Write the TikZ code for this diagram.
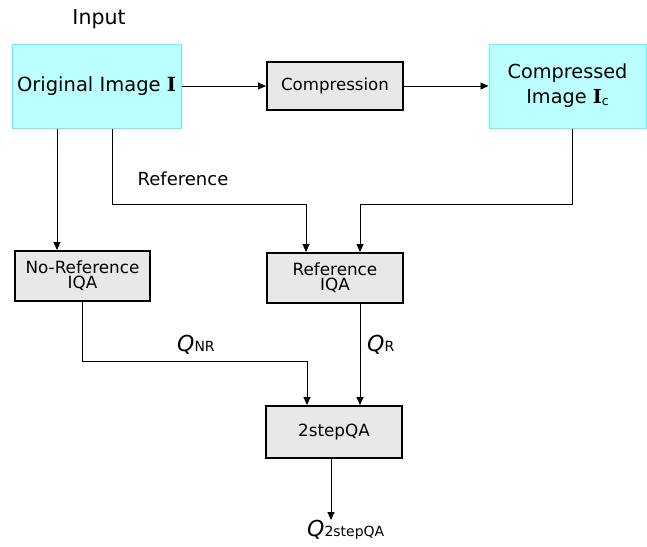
\documentclass[tikz,border=0pt]{standalone}
\usepackage{fontspec}
\setmainfont{DejaVu Sans}
\newfontfamily\slabfont{DejaVu Serif}
\newcommand{\boldI}{{\slabfont\bfseries I}}
\usetikzlibrary{arrows.meta}
\definecolor{cyanfill}{HTML}{BBFFFF}
\definecolor{cyanline}{HTML}{66F0F0}
\definecolor{boxgray}{HTML}{E8E8E8}
\tikzset{
  imgbox/.style={draw=cyanline, fill=cyanfill, line width=1pt, inner sep=0pt, align=center},
  procbox/.style={draw=black, fill=boxgray, line width=2pt, inner sep=0pt, align=center},
  arr/.style={-{Triangle[length=8pt,width=7pt]}, line width=0.9pt},
  lbl/.style={inner sep=0pt}
}
\begin{document}
\begin{tikzpicture}[x=1pt,y=-1pt]
\useasboundingbox (0,0) rectangle (647,546);
% boxes
\node[imgbox, minimum width=169pt, minimum height=84pt, font=\fontsize{19.5}{19.5}\selectfont] (orig) at (96.5,86) {Original Image \boldI};
\node[procbox, minimum width=136pt, minimum height=48pt, font=\fontsize{16.6}{16.6}\selectfont] (comp) at (335,86) {Compression};
\node[imgbox, minimum width=157pt, minimum height=84pt, font=\fontsize{19.3}{25}\selectfont] (cimg) at (567.5,86) {Compressed\\Image \boldI\raisebox{-0.15ex}{\fontsize{12.5}{12.5}\selectfont c}};
\node[procbox, minimum width=135pt, minimum height=50pt, font=\fontsize{16.8}{15}\selectfont] (nr) at (82.5,276) {No-Reference\\IQA};
\node[procbox, minimum width=136pt, minimum height=50pt, font=\fontsize{16.8}{15}\selectfont] (ref) at (335,278) {Reference\\IQA};
\node[procbox, minimum width=136pt, minimum height=52pt, font=\fontsize{16.8}{16.8}\selectfont] (two) at (334,432) {2stepQA};
% labels
\node[lbl, font=\fontsize{20.5}{20.5}\selectfont] (inp) at (99,19) {Input};
\node[lbl, font=\fontsize{18}{18}\selectfont] (reflbl) at (183,179) {Reference};
\node[lbl, font=\fontsize{22}{22}\selectfont, anchor=base west] (qnr) at (177,351) {\itshape Q\fontsize{14}{14}\selectfont\upshape NR};
\node[lbl, font=\fontsize{22}{22}\selectfont, anchor=base west] (qr) at (367,351) {\itshape Q\fontsize{14}{14}\selectfont\upshape R};
\node[lbl, font=\fontsize{22}{22}\selectfont, anchor=base west] (q2) at (307,536) {\itshape Q\fontsize{14}{14}\selectfont\upshape 2stepQA};
\coordinate (qout) at (331,520);
% connectors
\draw[arr] (orig.east) -- (comp.west);
\draw[arr] (comp.east) -- (cimg.west);
\draw[arr] (57,0 |- orig.south) -- (57,0 |- nr.north);
\draw[arr] (112,0 |- orig.south) -- (112,204) -- (306,204) -- (306,0 |- ref.north);
\draw[arr] (572,0 |- cimg.south) -- (572,204) -- (360,204) -- (360,0 |- ref.north);
\draw[arr] (82,0 |- nr.south) -- (82,361) -- (307,361) -- (307,0 |- two.north);
\draw[arr] (360,0 |- ref.south) -- (360,0 |- two.north);
\draw[arr] (331,0 |- two.south) -- (qout);
\end{tikzpicture}
\end{document}
